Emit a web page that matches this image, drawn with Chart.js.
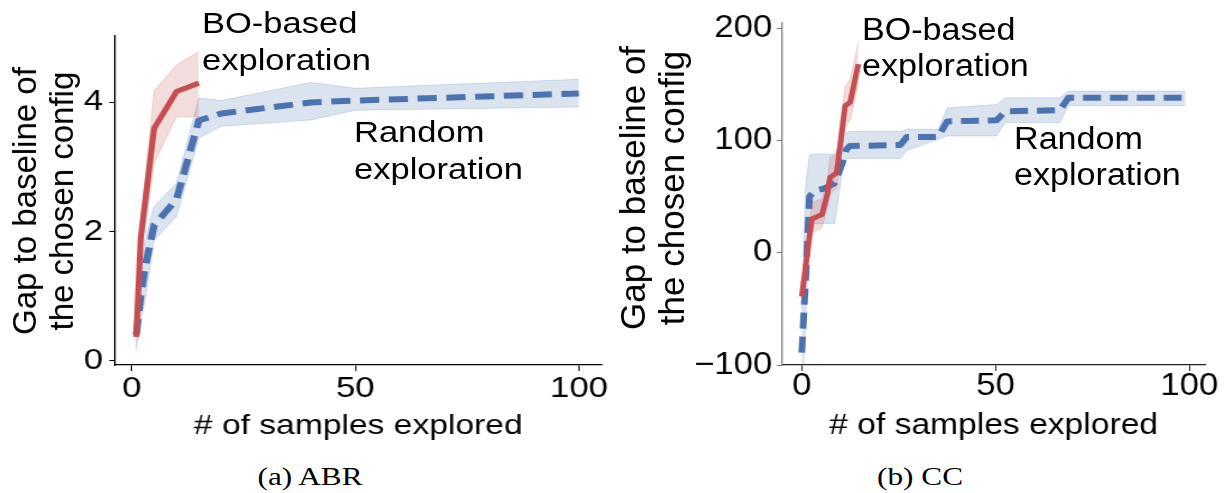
<!DOCTYPE html>
<html>
<head>
<meta charset="utf-8">
<script src="https://cdn.jsdelivr.net/npm/chart.js@4.4.1/dist/chart.umd.min.js"></script>
<style>
  body { margin: 0; background: #fff; width: 1225px; height: 493px; overflow: hidden; position: relative;
         font-family: "Liberation Sans", Arial, sans-serif; }
  canvas { position: absolute; top: 0; }
  .note { position: absolute; white-space: nowrap; transform-origin: 0 0; color: #000; }
  .ylab { position: absolute; white-space: nowrap; text-align: center; color: #000;
          transform: translate(-50%, -50%) rotate(-90deg); }
  .cap { position: absolute; width: 200px; text-align: center; white-space: nowrap; transform-origin: 0 0;
         font-family: "Liberation Serif", "Times New Roman", serif; font-size: 25px; line-height: 30px; color: #000; }
</style>
</head>
<body>
<canvas id="abr" width="510" height="450" style="left:0;width:612px;height:450px"></canvas>
<canvas id="cc" width="547" height="450" style="left:612px;width:613px;height:450px"></canvas>

<div class="ylab" style="left:43px;top:201px;font-size:33px;line-height:37px">Gap to baseline of<br>the chosen config</div>
<div class="ylab" style="left:652px;top:188px;font-size:35px;line-height:39px">Gap to baseline of<br>the chosen config</div>

<div class="note" style="left:202px;top:5px;font-size:29px;line-height:36.5px;transform:scaleX(1.19)">BO-based<br>exploration</div>
<div class="note" style="left:354px;top:114px;font-size:29px;line-height:36.5px;transform:scaleX(1.19)">Random<br>exploration</div>
<div class="note" style="left:862px;top:12px;font-size:31px;line-height:36px;transform:scaleX(1.1)">BO-based<br>exploration</div>
<div class="note" style="left:1014px;top:121px;font-size:31px;line-height:36px;transform:scaleX(1.1)">Random<br>exploration</div>

<div class="cap" style="left:185px;top:462px;transform:scaleX(1.25)">(a) ABR</div>
<div class="cap" style="left:795px;top:462px;transform:scaleX(1.25)">(b) CC</div>

<script>
// (a) ABR
const abrBoX = [1, 2, 5, 10, 15];
const abrBoMean = [0.37, 1.9, 3.6, 4.17, 4.3];
const abrBoLow = [0.15, 1.6, 3.06, 3.78, 3.78];
const abrBoHigh = [0.55, 2.1, 4.18, 4.58, 4.79];

const abrRandX = [1, 2, 3, 5, 10, 15, 20, 40, 50, 100];
const abrRandMean = [0.4, 1.0, 1.45, 2.1, 2.5, 3.72, 3.83, 4.0, 4.03, 4.14];
const abrRandLow = [0.2, 0.6, 0.95, 1.87, 2.23, 3.45, 3.63, 3.73, 3.88, 3.93];
const abrRandHigh = [0.6, 1.3, 1.9, 2.39, 2.75, 4.07, 4.03, 4.31, 4.22, 4.36];

const abrXTicks = [0, 50, 100];
const abrYTicks = [0, 2, 4];
const abrYLabels = ['0', '2', '4'];

// (b) CC
const ccBoX = [0, 2.6, 5.2, 6.6, 7.3, 9.0, 11.2, 12.5, 14.6];
const ccBoMean = [-39, 30, 34, 52, 67, 71, 131, 134, 168];
const ccBoLow = [-45, 18, 22, 40, 52, 58, 112, 118, 150];
const ccBoHigh = [-33, 45, 48, 65, 85, 88, 148, 155, 187];

const ccRandX = [0, 1, 2, 3.4, 5.6, 8.5, 10.5, 11.5, 12.4, 25.4, 27.1, 35.2, 37.5, 50.3, 52.5, 66.6, 68.8, 99];
const ccRandMean = [-89, -25, 50, 55.5, 57, 62, 80, 92, 95, 96, 103, 103, 117, 118, 126, 127, 138, 138];
const ccRandLow = [-130, -60, 24, 26, 26, 26, 73, 84, 84, 84, 91, 101, 104, 104, 116, 116, 131, 131];
const ccRandHigh = [-55, 60, 87, 88, 88, 88, 100, 107, 108, 108, 110, 110, 129, 132, 138, 138, 144, 144];

const ccXTicks = [0, 50, 100];
const ccYTicks = [-100, 0, 100, 200];
const ccYLabels = ['\u2212100', '0', '100', '200'];

const xLabels = ['0', '50', '100'];
const xTitle = '# of samples explored';

const RED = '#C44E52';
const BLUE = '#4C72B0';
const RED_BAND = 'rgba(196, 78, 82, 0.2)';
const BLUE_BAND = 'rgba(76, 114, 176, 0.2)';

const pts = (xs, ys) => xs.map((x, i) => ({ x: x, y: ys[i] }));

function makeDatasets(boX, boMean, boLow, boHigh, rX, rMean, rLow, rHigh) {
  const band = (data, color, fill, order) => ({
    data: data, borderColor: color, backgroundColor: color, borderWidth: 1,
    pointRadius: 0, tension: 0, fill: fill, order: order
  });
  return [
    band(pts(boX, boLow), RED_BAND, false, 1),
    band(pts(boX, boHigh), RED_BAND, 0, 1),
    { data: pts(boX, boMean), borderColor: RED, borderWidth: 5, pointRadius: 0, tension: 0,
      borderCapStyle: 'butt', borderJoinStyle: 'round', fill: false, order: 0 },
    band(pts(rX, rLow), BLUE_BAND, false, 3),
    band(pts(rX, rHigh), BLUE_BAND, 3, 3),
    { data: pts(rX, rMean), borderColor: BLUE, borderWidth: 6, borderDash: [16, 8], pointRadius: 0, tension: 0,
      borderCapStyle: 'butt', borderJoinStyle: 'round', fill: false, order: 2 }
  ];
}

function makeChart(id, cfg) {
  const ctx = document.getElementById(id);
  return new Chart(ctx, {
    type: 'line',
    data: { datasets: cfg.datasets },
    options: {
      responsive: false,
      animation: false,
      devicePixelRatio: 1,
      layout: { padding: { top: cfg.padTop, right: cfg.padRight, left: 0, bottom: 0 } },
      plugins: { legend: { display: false }, tooltip: { enabled: false } },
      scales: {
        x: {
          type: 'linear', min: cfg.xMin, max: cfg.xMax,
          afterBuildTicks: (s) => { s.ticks = cfg.xTicks.map(v => ({ value: v })); },
          afterFit: (s) => { s.height = 85; },
          ticks: {
            callback: (v, i) => xLabels[i], color: '#000', padding: cfg.xTickPad, maxRotation: 0,
            font: { family: 'Liberation Sans', size: cfg.tickSize, lineHeight: 1 }
          },
          grid: { drawOnChartArea: false, drawTicks: true, tickLength: 6, tickColor: cfg.bottomColor, tickWidth: 1 },
          border: { color: cfg.bottomColor, width: 1.3 },
          title: {
            display: true, text: xTitle, color: '#000',
            font: { family: 'Liberation Sans', size: cfg.titleSize, lineHeight: 1.2 },
            padding: { top: 0, bottom: cfg.titlePad }
          }
        },
        y: {
          type: 'linear', min: cfg.yMin, max: cfg.yMax,
          afterBuildTicks: (s) => { s.ticks = cfg.yTicks.map(v => ({ value: v })); },
          afterFit: (s) => { s.width = cfg.yWidth; },
          ticks: {
            callback: (v, i) => cfg.yLabels[i], color: '#000', padding: cfg.yTickPad,
            font: { family: 'Liberation Sans', size: cfg.tickSize, lineHeight: 1.2 }
          },
          grid: { drawOnChartArea: false, drawTicks: true, tickLength: 5, tickColor: cfg.leftColor, tickWidth: 1 },
          border: { color: cfg.leftColor, width: 1.3 }
        }
      }
    }
  });
}

makeChart('abr', {
  datasets: makeDatasets(abrBoX, abrBoMean, abrBoLow, abrBoHigh, abrRandX, abrRandMean, abrRandLow, abrRandHigh),
  padTop: 36, padRight: 8, yWidth: 96,
  xMin: -3.7, xMax: 105, yMin: -0.067, yMax: 5.03,
  xTicks: abrXTicks, yTicks: abrYTicks, yLabels: abrYLabels,
  tickSize: 29, titleSize: 28, xTickPad: 3, yTickPad: 5, titlePad: 7,
  leftColor: '#000', bottomColor: '#000'
});

makeChart('cc', {
  datasets: makeDatasets(ccBoX, ccBoMean, ccBoLow, ccBoHigh, ccRandX, ccRandMean, ccRandLow, ccRandHigh),
  padTop: 20, padRight: 18, yWidth: 152,
  xMin: -5.0, xMax: 104, yMin: -100, yMax: 205,
  xTicks: ccXTicks, yTicks: ccYTicks, yLabels: ccYLabels,
  tickSize: 31, titleSize: 30, xTickPad: 0, yTickPad: 4, titlePad: 6,
  leftColor: '#808080', bottomColor: '#222'
});
</script>
</body>
</html>
